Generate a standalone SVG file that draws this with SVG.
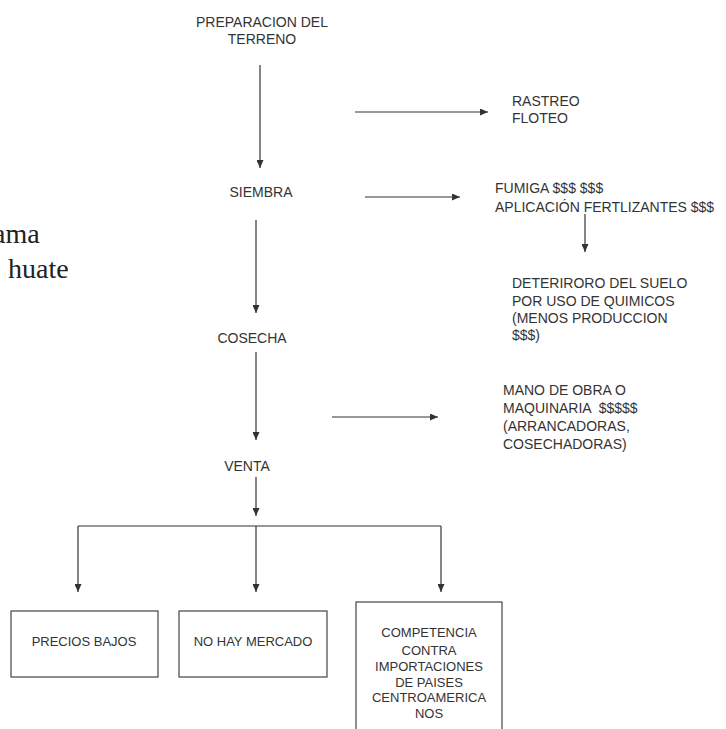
<svg xmlns="http://www.w3.org/2000/svg" width="726" height="729" viewBox="0 0 726 729">
<defs>
<marker id="ah" markerWidth="8" markerHeight="7" refX="8" refY="3.5" orient="auto" markerUnits="userSpaceOnUse">
<path d="M0,0 L8,3.5 L0,7 z" fill="#333"/>
</marker>
<style>
.t{font-family:"Liberation Sans",Arial,sans-serif;font-size:14px;fill:#333}
.b{font-family:"Liberation Sans",Arial,sans-serif;font-size:13px;fill:#333;text-anchor:middle}
.m{text-anchor:middle}
.s{font-family:"Liberation Serif","Times New Roman",serif;font-size:28px;fill:#222}
.c line,.c path{stroke:#333;stroke-width:1.2;fill:none}
.a{marker-end:url(#ah)}
.box{fill:#fff;stroke:#444;stroke-width:1.2}
</style>
</defs>
<rect width="726" height="729" fill="#fff"/>

<g id="title">
<text class="s" x="-7" y="243">ama</text>
<text class="s" x="8" y="278">huate</text>
</g>

<g class="c" id="connectors">
<line class="a" x1="260" y1="65" x2="260" y2="168"/>
<line class="a" x1="256" y1="220" x2="256" y2="313"/>
<line class="a" x1="256" y1="352" x2="256" y2="440"/>
<line class="a" x1="256" y1="477" x2="256" y2="516"/>
<line x1="78" y1="526" x2="441" y2="526"/>
<line class="a" x1="78" y1="526" x2="78" y2="592"/>
<line class="a" x1="256" y1="526" x2="256" y2="592"/>
<line class="a" x1="441" y1="526" x2="441" y2="592"/>
<line class="a" x1="355" y1="112" x2="488" y2="112"/>
<line class="a" x1="365" y1="197" x2="460" y2="197"/>
<line class="a" x1="585" y1="214" x2="585" y2="252"/>
<line class="a" x1="332" y1="417" x2="438" y2="417"/>
</g>

<g id="preparacion">
<text class="t m" x="262" y="27">PREPARACION DEL</text>
<text class="t m" x="262" y="44">TERRENO</text>
</g>
<g id="siembra"><text class="t m" x="261" y="197">SIEMBRA</text></g>
<g id="cosecha"><text class="t m" x="252" y="343">COSECHA</text></g>
<g id="venta"><text class="t m" x="247" y="471">VENTA</text></g>

<g id="rastreo">
<text class="t" x="512" y="106">RASTREO</text>
<text class="t" x="512" y="123">FLOTEO</text>
</g>
<g id="fumiga">
<text class="t" x="495" y="193">FUMIGA $$$ $$$</text>
<text class="t" x="495" y="212">APLICACIÓN FERTLIZANTES $$$</text>
</g>
<g id="deterioro">
<text class="t" x="512" y="288">DETERIRORO DEL SUELO</text>
<text class="t" x="512" y="306">POR USO DE QUIMICOS</text>
<text class="t" x="512" y="323">(MENOS PRODUCCION</text>
<text class="t" x="512" y="340">$$$)</text>
</g>
<g id="mano">
<text class="t" x="503" y="395">MANO DE OBRA O</text>
<text class="t" x="503" y="413" xml:space="preserve">MAQUINARIA  $$$$$</text>
<text class="t" x="503" y="431">(ARRANCADORAS,</text>
<text class="t" x="503" y="449">COSECHADORAS)</text>
</g>

<g id="precios">
<rect class="box" x="11" y="611" width="147" height="66"/>
<text class="b" x="84" y="646">PRECIOS BAJOS</text>
</g>
<g id="mercado">
<rect class="box" x="179" y="611" width="148" height="66"/>
<text class="b" x="253" y="646">NO HAY MERCADO</text>
</g>
<g id="competencia">
<rect class="box" x="356" y="602" width="146" height="140"/>
<text class="b" x="429" y="637">COMPETENCIA</text>
<text class="b" x="429" y="655">CONTRA</text>
<text class="b" x="429" y="671">IMPORTACIONES</text>
<text class="b" x="429" y="687">DE PAISES</text>
<text class="b" x="429" y="702">CENTROAMERICA</text>
<text class="b" x="429" y="718">NOS</text>
</g>
</svg>
